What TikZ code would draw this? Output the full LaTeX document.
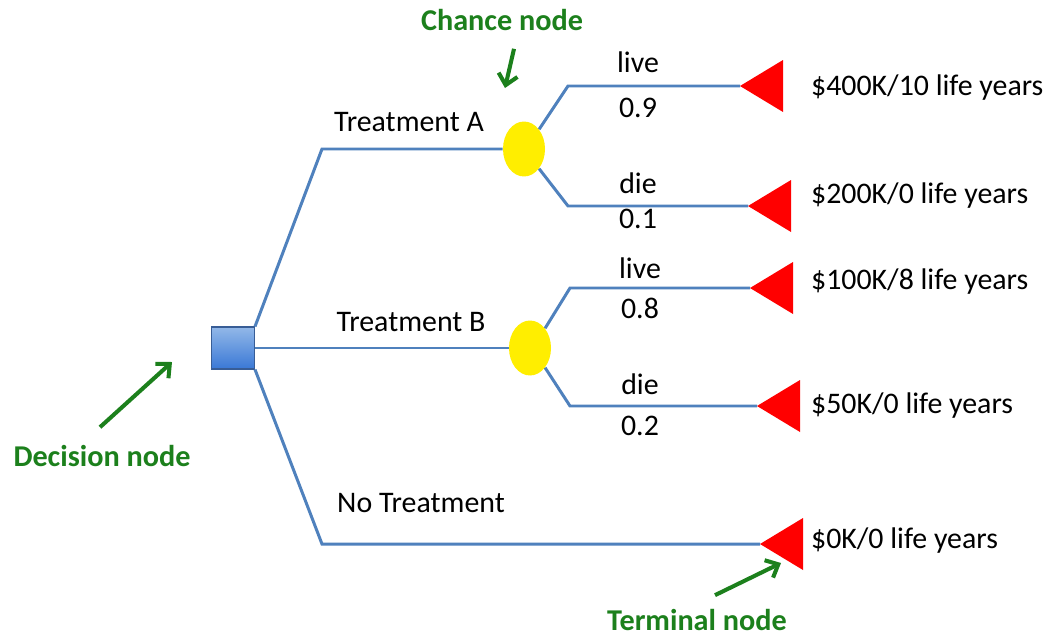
\documentclass[tikz,border=0pt]{standalone}
\usepackage{fontspec}
\setmainfont{Carlito}
\usetikzlibrary{shapes.geometric,arrows.meta}

\definecolor{branchblue}{RGB}{79,129,189}
\definecolor{boxtop}{RGB}{146,184,232}
\definecolor{boxbot}{RGB}{58,120,214}
\definecolor{boxline}{RGB}{56,93,150}
\definecolor{chanceyellow}{RGB}{255,238,0}
\definecolor{labelgreen}{RGB}{28,128,28}

\tikzset{
  branch/.style={draw=branchblue, line width=1.7pt},
  decisionbox/.style={rectangle, draw=boxline, line width=0.6pt, top color=boxtop,
    bottom color=boxbot, minimum width=0.86cm, minimum height=0.84cm, inner sep=0pt},
  chancedot/.style={ellipse, fill=chanceyellow, minimum width=0.84cm,
    minimum height=1.1cm, inner sep=0pt},
  terminal/.style={fill=red},
  lbl/.style={font=\fontsize{17}{20}\selectfont, inner sep=1pt},
  payoff/.style={lbl, anchor=west},
  callout/.style={font=\fontsize{17.2}{20}\selectfont\bfseries, text=labelgreen, inner sep=1pt},
  pointer/.style={draw=labelgreen, line width=2.3pt, -{Straight Barb[length=6pt,width=11pt]}},
}

\begin{document}
\begin{tikzpicture}[x=0.02cm, y=-0.02cm]
  \fill[white] (0,0) rectangle (1055,636);

  % decision and chance nodes
  \node[decisionbox] (dec) at (233,348) {};
  \node[chancedot] (chA) at (524,149) {};
  \node[chancedot] (chB) at (530,348) {};

  % terminal nodes (tip of each triangle)
  \coordinate (tA1) at (740,86);
  \coordinate (tA2) at (748,206);
  \coordinate (tB1) at (750,288);
  \coordinate (tB2) at (757,406);
  \coordinate (tN) at (760,544);
  \foreach \t in {tA1,tA2,tB1,tB2,tN}
    \fill[terminal] (\t) -- ++(43,-26) -- ++(0,52) -- cycle;

  % branches
  \draw[branch] (dec.north east) -- (322,149) -- (chA.west);
  \draw[branch] (dec.east) -- (chB.west);
  \draw[branch] (dec.south east) -- (322,544) -- (tN);
  \draw[branch] (chA.north east) -- (568,86) -- (tA1);
  \draw[branch] (chA.south east) -- (568,206) -- (tA2);
  \draw[branch] (chB.north east) -- (570,288) -- (tB1);
  \draw[branch] (chB.south east) -- (570,406) -- (tB2);

  \node[lbl] (trA) at (409,122) {Treatment A};
  \node[lbl] (trB) at (411,322) {Treatment B};
  \node[lbl] (trN) at (421,503) {No Treatment};

  \node[lbl] (pA1) at (638,62) {live};
  \node[lbl] (qA1) at (638,108) {0.9};
  \node[lbl] (pA2) at (638,183) {die};
  \node[lbl] (qA2) at (638,219) {0.1};
  \node[lbl] (pB1) at (640,268) {live};
  \node[lbl] (qB1) at (640,308) {0.8};
  \node[lbl] (pB2) at (640,384) {die};
  \node[lbl] (qB2) at (640,426) {0.2};

  \node[payoff] (vA1) at (809,88) {\$400K/10 life years};
  \node[payoff] (vA2) at (809,196) {\$200K/0 life years};
  \node[payoff] (vB1) at (809,282) {\$100K/8 life years};
  \node[payoff] (vB2) at (809,406) {\$50K/0 life years};
  \node[payoff] (vN) at (809,541) {\$0K/0 life years};

  % callouts
  \coordinate (dectip) at (172,362);
  \coordinate (chtip) at (505,88);
  \coordinate (tmtip) at (781,563);
  \node[callout] (declbl) at (102,456) {Decision node};
  \node[callout] (chlbl) at (502,20) {Chance node};
  \node[callout] (tmlbl) at (697,620) {Terminal node};
  \draw[pointer] (declbl.north) ++(-2,-16) -- (dectip);
  \draw[pointer] (chlbl.south) ++(12,16) -- (chtip);
  \draw[pointer] (tmlbl.north) ++(18,-12) -- (tmtip);
\end{tikzpicture}
\end{document}
